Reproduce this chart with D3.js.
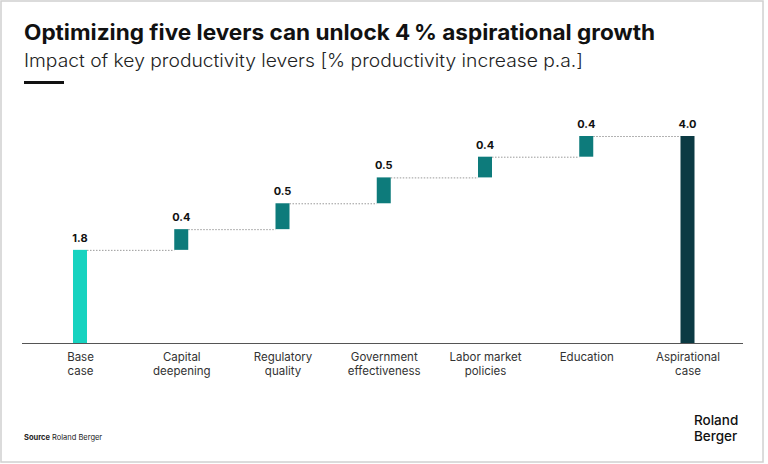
<!DOCTYPE html>
<html><head><meta charset="utf-8">
<script src="https://cdn.jsdelivr.net/npm/d3@7"></script>
<style>body{margin:0;background:#fff;}svg{display:block;font-family:Inter,"Open Sans",sans-serif;}</style>
</head><body><svg id="c" width="768" height="464"></svg>
<script>
const categories = [["Base","case"],["Capital","deepening"],["Regulatory","quality"],["Government","effectiveness"],["Labor market","policies"],["Education"],["Aspirational","case"]];
const values = [1.8, 0.4, 0.5, 0.5, 0.4, 0.4, 4.0];
const kinds = ["base","lever","lever","lever","lever","lever","total"];
const valueLabels = ["1.8","0.4","0.5","0.5","0.4","0.4","4.0"];

const svg = d3.select("#c");
svg.append("rect").attr("x",1).attr("y",1).attr("width",762).attr("height",461).attr("fill","#fff").attr("stroke","#d0d0d0").attr("stroke-width",1.5);

svg.append("text").attr("x",24).attr("y",40).attr("font-size",21).attr("font-weight",700).attr("fill","#111")
  .attr("textLength",631).attr("lengthAdjust","spacingAndGlyphs")
  .text("Optimizing five levers can unlock 4\u2009% aspirational growth");
svg.append("text").attr("x",24).attr("y",67).attr("font-size",18).attr("font-weight",300).attr("fill","#222")
  .attr("textLength",559).attr("lengthAdjust","spacingAndGlyphs")
  .text("Impact of key productivity levers [% productivity increase p.a.]");
svg.append("rect").attr("x",24).attr("y",81).attr("width",40).attr("height",3).attr("fill","#111");

const idx = d3.range(categories.length);
const x = d3.scalePoint().domain(idx).range([80, 687.5]);
const y = d3.scaleLinear().domain([0,4]).range([343,136]);
const bw = 14;

let cum = 0;
const bars = idx.map(i => {
  let y0, y1;
  if (kinds[i] === "base") { y0 = 0; y1 = values[i]; cum = values[i]; }
  else if (kinds[i] === "lever") { y0 = cum; y1 = cum + values[i]; cum = y1; }
  else { y0 = 0; y1 = values[i]; }
  return {i, y0, y1};
});
const color = {base:"#17d3c0", lever:"#0d7b7b", total:"#0b3a43"};

bars.slice(0,-1).forEach((b,k) => {
  const nb = bars[k+1];
  svg.append("line").attr("x1", x(b.i)+bw/2).attr("x2", x(nb.i)-bw/2)
    .attr("y1", y(b.y1)+0.5).attr("y2", y(b.y1)+0.5)
    .attr("stroke","#9a9a9a").attr("stroke-width",1).attr("stroke-dasharray","1.5,1.5");
});

svg.selectAll("rect.bar").data(bars).enter().append("rect").attr("class","bar")
  .attr("x", d => x(d.i)-bw/2).attr("width", bw)
  .attr("y", d => y(d.y1)).attr("height", d => y(d.y0)-y(d.y1))
  .attr("fill", d => color[kinds[d.i]]);

svg.selectAll("text.val").data(bars).enter().append("text").attr("class","val")
  .attr("x", d => x(d.i)).attr("y", d => y(d.y1)-8)
  .attr("text-anchor","middle").attr("font-size",11).attr("font-weight",700).attr("fill","#111")
  .text(d => valueLabels[d.i]);

svg.append("line").attr("x1",22).attr("x2",743).attr("y1",343.5).attr("y2",343.5).attr("stroke","#555").attr("stroke-width",1.2);
const xa = d3.axisBottom(x).tickSize(0).tickFormat(() => "");
const ga = svg.append("g").attr("transform","translate(0,343)").call(xa);
ga.select(".domain").remove();
ga.selectAll(".tick").each(function(d){
  const t = d3.select(this).append("text").attr("text-anchor","middle").attr("font-size",11.5).attr("fill","#333").attr("font-family","Inter, sans-serif");
  categories[d].forEach((line,j) => t.append("tspan").attr("x",0).attr("y",18+j*13.5).text(line));
});

const src = svg.append("text").attr("x",24).attr("y",440).attr("font-size",7.5).attr("fill","#222");
src.append("tspan").attr("font-weight",700).text("Source");
src.append("tspan").text(" Roland Berger");

const logo = svg.append("g").attr("font-size",13.5).attr("font-weight",500).attr("fill","#111");
logo.append("text").attr("x",694).attr("y",425).text("Roland");
logo.append("text").attr("x",694).attr("y",441).text("Berger");
</script></body></html>
